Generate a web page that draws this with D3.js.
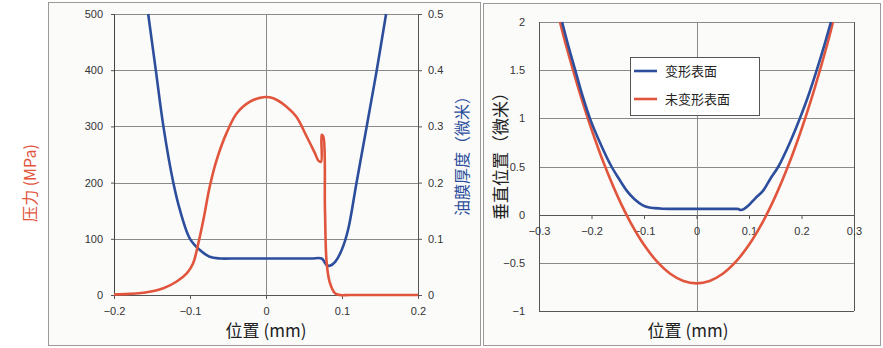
<!DOCTYPE html>
<html>
<head>
<meta charset="utf-8">
<script src="https://cdn.jsdelivr.net/npm/d3@7"></script>
<style>
  body { margin: 0; background: #fff; }
  svg { font-family: "Open Sans", "Noto Sans CJK SC", sans-serif; }
  .tick text { font-size: 11px; fill: #333; }
</style>
</head>
<body>
<div id="chart"></div>
<script>
// left chart: pressure (MPa) and film thickness (um) vs position (mm)
const pressure = [
  [-0.2, 1], [-0.18, 2], [-0.161, 4], [-0.135, 12], [-0.1175, 24], [-0.104, 39],
  [-0.096, 56], [-0.089, 92], [-0.0825, 133], [-0.074, 193], [-0.065, 240],
  [-0.052, 288], [-0.0386, 323], [-0.021, 344], [-0.0035, 352], [0.0096, 350],
  [0.027, 335], [0.04, 317], [0.0535, 282], [0.0645, 252], [0.069, 239],
  [0.0724, 237], [0.0733, 285], [0.0754, 282], [0.0776, 151], [0.0799, 56],
  [0.0842, 21], [0.0908, 3], [0.097, 0], [0.11, 0], [0.14, 0], [0.17, 0], [0.2, 0]
];
const thickness = [
  [-0.155, 0.5], [-0.145, 0.4], [-0.135, 0.3], [-0.122, 0.2], [-0.113, 0.15],
  [-0.1, 0.1], [-0.087, 0.08], [-0.074, 0.068], [-0.06, 0.065], [-0.04, 0.065],
  [-0.02, 0.065], [0, 0.065], [0.02, 0.065], [0.04, 0.065], [0.06, 0.065],
  [0.0733, 0.065], [0.0799, 0.053], [0.084, 0.052], [0.091, 0.059], [0.0996, 0.08],
  [0.108, 0.116], [0.119, 0.199], [0.1325, 0.3], [0.1457, 0.4], [0.158, 0.5]
];
// right chart: vertical position (um) vs position (mm)
const deformed = [
  [-0.256, 2], [-0.244, 1.75], [-0.231, 1.5], [-0.218, 1.25], [-0.203, 1.0],
  [-0.184, 0.75], [-0.162, 0.5], [-0.148, 0.375], [-0.133, 0.25], [-0.118, 0.16],
  [-0.103, 0.1], [-0.09, 0.075], [-0.08, 0.068], [-0.065, 0.062], [-0.04, 0.06],
  [-0.02, 0.06], [0, 0.06], [0.02, 0.06], [0.04, 0.06], [0.06, 0.06],
  [0.075, 0.06], [0.08, 0.058], [0.084, 0.048], [0.09, 0.058], [0.1, 0.1],
  [0.112, 0.17], [0.127, 0.25], [0.141, 0.375], [0.156, 0.5], [0.178, 0.75],
  [0.197, 1.0], [0.214, 1.25], [0.229, 1.5], [0.243, 1.75], [0.256, 2]
];
const undeformed = [
  [-0.26, 2.0], [-0.25, 1.787], [-0.225, 1.312], [-0.2, 0.887], [-0.175, 0.512],
  [-0.15, 0.187], [-0.125, -0.088], [-0.1, -0.313], [-0.075, -0.488], [-0.05, -0.613],
  [-0.025, -0.688], [0, -0.713], [0.025, -0.688], [0.05, -0.613], [0.075, -0.488],
  [0.1, -0.313], [0.125, -0.088], [0.15, 0.187], [0.175, 0.512], [0.2, 0.887],
  [0.225, 1.312], [0.25, 1.787], [0.26, 2.0]
];
const legendNames = ["变形表面", "未变形表面"];
const xTicksL = [-0.2, -0.1, 0, 0.1, 0.2];
const pTicks = [0, 100, 200, 300, 400, 500];
const hTicks = [0, 0.1, 0.2, 0.3, 0.4, 0.5];
const xTicksR = [-0.3, -0.2, -0.1, 0, 0.1, 0.2, 0.3];
const yTicksR = [-1, -0.5, 0, 0.5, 1, 1.5, 2];

const BLUE = "#2c4e9c", RED = "#e1553d", GRID = "#8a8a8a";

const svg = d3.select("#chart").append("svg")
  .attr("width", 883).attr("height", 348);

// panel frames
svg.append("rect").attr("x", 48.5).attr("y", 2.5).attr("width", 432).attr("height", 343)
  .attr("fill", "#fbfbfa").attr("stroke", "#9a9a9a");
svg.append("rect").attr("x", 483.5).attr("y", 3.5).attr("width", 397).attr("height", 342)
  .attr("fill", "#fbfbfa").attr("stroke", "#9a9a9a");

const fmt = d => d3.format("")(d);
const smooth = d3.curveCatmullRom.alpha(0.5);

// ---------- left chart ----------
const L = svg.append("g");
const x1 = d3.scaleLinear().domain([-0.2, 0.2]).range([114, 418]);
const yP = d3.scaleLinear().domain([0, 500]).range([295, 14]);
const yH = d3.scaleLinear().domain([0, 0.5]).range([295, 14]);

L.append("g").selectAll("line").data(pTicks).join("line")
  .attr("x1", 114).attr("x2", 418)
  .attr("y1", d => Math.round(yP(d)) + 0.5).attr("y2", d => Math.round(yP(d)) + 0.5)
  .attr("stroke", GRID);
L.append("g").selectAll("line").data([-0.2, 0, 0.2]).join("line")
  .attr("x1", d => Math.round(x1(d)) + 0.5).attr("x2", d => Math.round(x1(d)) + 0.5)
  .attr("y1", 14).attr("y2", 295)
  .attr("stroke", GRID);

L.append("g").attr("transform", "translate(0,295)")
  .call(d3.axisBottom(x1).tickValues(xTicksL).tickFormat(fmt).tickSize(4).tickPadding(8))
  .call(g => g.select(".domain").attr("stroke", "#555"))
  .call(g => g.selectAll(".tick line").attr("stroke", "#555"));
L.append("g").attr("transform", "translate(114,0)")
  .call(d3.axisLeft(yP).tickValues(pTicks).tickSize(3).tickPadding(8))
  .call(g => g.select(".domain").attr("stroke", "#444"))
  .call(g => g.selectAll(".tick line").attr("stroke", "#555"));
L.append("g").attr("transform", "translate(418,0)")
  .call(d3.axisRight(yH).tickValues(hTicks).tickFormat(fmt).tickSize(4).tickPadding(6))
  .call(g => g.select(".domain").attr("stroke", "#555"))
  .call(g => g.selectAll(".tick line").attr("stroke", "#555"));

const lineL1 = d3.line().x(d => x1(d[0])).y(d => yP(d[1])).curve(smooth);
const lineL2 = d3.line().x(d => x1(d[0])).y(d => yH(d[1])).curve(smooth);
L.append("path").datum(thickness).attr("d", lineL2)
  .attr("fill", "none").attr("stroke", BLUE).attr("stroke-width", 2.6);
L.append("path").datum(pressure).attr("d", lineL1)
  .attr("fill", "none").attr("stroke", RED).attr("stroke-width", 2.6);

L.append("text").attr("transform", "translate(36,183) rotate(-90)")
  .attr("text-anchor", "middle").attr("fill", RED)
  .style("font-size", "16px").style("font-family", "Noto Sans CJK SC")
  .text("压力 (MPa)");
L.append("text").attr("transform", "translate(468,152) rotate(-90)")
  .attr("text-anchor", "middle").attr("fill", BLUE)
  .style("font-size", "16px").style("font-family", "Noto Sans CJK SC")
  .text("油膜厚度（微米）");
L.append("text").attr("x", 266).attr("y", 337)
  .attr("text-anchor", "middle").attr("fill", "#222")
  .style("font-size", "17px").style("font-family", "Noto Sans CJK SC")
  .text("位置 (mm)");

// ---------- right chart ----------
const R = svg.append("g");
const x2 = d3.scaleLinear().domain([-0.3, 0.3]).range([539, 854]);
const y2 = d3.scaleLinear().domain([-1, 2]).range([311, 22]);

R.append("g").selectAll("line").data(yTicksR).join("line")
  .attr("x1", 539).attr("x2", 854)
  .attr("y1", d => Math.round(y2(d)) + 0.5).attr("y2", d => Math.round(y2(d)) + 0.5)
  .attr("stroke", d => d === 0 || d === -1 ? "#555" : GRID);
R.append("g").selectAll("line").data([-0.3, 0, 0.3]).join("line")
  .attr("x1", d => Math.round(x2(d)) + 0.5).attr("x2", d => Math.round(x2(d)) + 0.5)
  .attr("y1", 22).attr("y2", 311)
  .attr("stroke", d => d === 0 ? GRID : "#555");

R.append("g").attr("transform", "translate(0," + Math.round(y2(0)) + ")")
  .call(d3.axisBottom(x2).tickValues(xTicksR).tickFormat(fmt).tickSize(4).tickPadding(8))
  .call(g => g.select(".domain").remove())
  .call(g => g.selectAll(".tick line").attr("stroke", "#555"));
R.append("g").attr("transform", "translate(539,0)")
  .call(d3.axisLeft(y2).tickValues(yTicksR).tickFormat(fmt).tickSize(0).tickPadding(14))
  .call(g => g.select(".domain").remove());

const lineR = d3.line().x(d => x2(d[0])).y(d => y2(d[1])).curve(smooth);
R.append("path").datum(undeformed).attr("d", lineR)
  .attr("fill", "none").attr("stroke", RED).attr("stroke-width", 2.6);
R.append("path").datum(deformed).attr("d", lineR)
  .attr("fill", "none").attr("stroke", BLUE).attr("stroke-width", 2.6);

// legend
const lg = R.append("g").attr("transform", "translate(630,57)");
lg.append("rect").attr("x", 0.5).attr("y", 0.5).attr("width", 129).attr("height", 58)
  .attr("fill", "#fff").attr("stroke", "#555");
lg.selectAll("g.item").data(legendNames).join("g").attr("class", "item")
  .attr("transform", (d, i) => "translate(0," + (14 + i * 28) + ")")
  .each(function (d, i) {
    const g = d3.select(this);
    g.append("line").attr("x1", 4).attr("x2", 27).attr("y1", 0).attr("y2", 0)
      .attr("stroke", i === 0 ? BLUE : RED).attr("stroke-width", 2.6);
    g.append("text").attr("x", 35).attr("y", 5).attr("fill", "#222")
      .style("font-size", "13px").style("font-family", "Noto Sans CJK SC")
      .text(d);
  });

R.append("text").attr("transform", "translate(507,152) rotate(-90)")
  .attr("text-anchor", "middle").attr("fill", "#222")
  .style("font-size", "17px").style("font-family", "Noto Sans CJK SC")
  .text("垂直位置（微米）");
R.append("text").attr("x", 688).attr("y", 337)
  .attr("text-anchor", "middle").attr("fill", "#222")
  .style("font-size", "17px").style("font-family", "Noto Sans CJK SC")
  .text("位置 (mm)");
</script>
</body>
</html>
